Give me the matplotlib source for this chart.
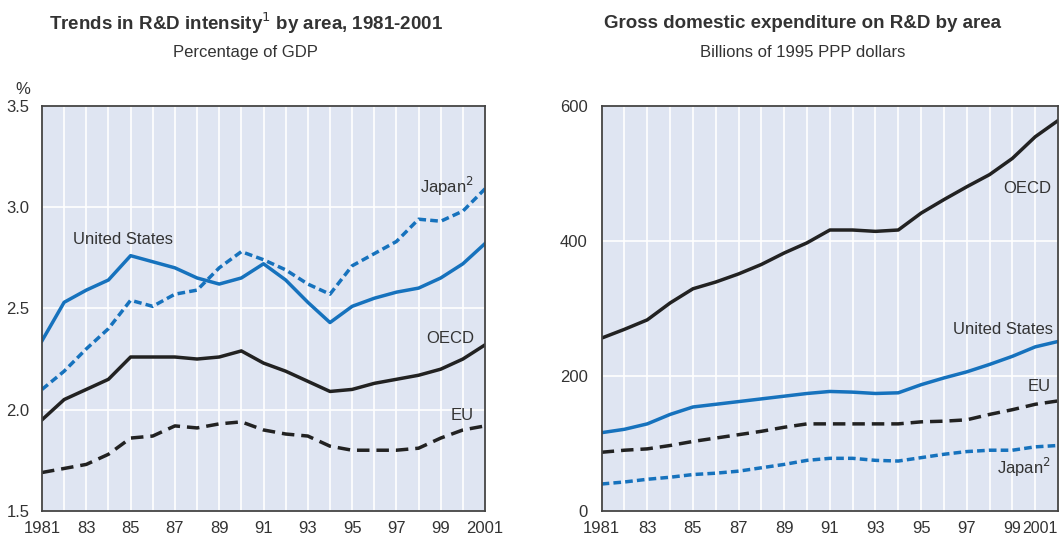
import numpy as np
import matplotlib
matplotlib.use("Agg")
from matplotlib import pyplot as plt

plt.rcParams['font.family'] = ['Liberation Sans Narrow', 'Liberation Sans', 'DejaVu Sans']

### Data ###
years = list(range(1981, 2002))

# R&D intensity, % of GDP
int_us = [2.34, 2.53, 2.59, 2.64, 2.76, 2.73, 2.70, 2.65, 2.62, 2.65, 2.72,
          2.64, 2.53, 2.43, 2.51, 2.55, 2.58, 2.60, 2.65, 2.72, 2.82]
int_japan = [2.10, 2.19, 2.30, 2.40, 2.54, 2.51, 2.57, 2.59, 2.70, 2.78, 2.74,
             2.69, 2.62, 2.57, 2.71, 2.77, 2.83, 2.94, 2.93, 2.98, 3.09]
int_oecd = [1.95, 2.05, 2.10, 2.15, 2.26, 2.26, 2.26, 2.25, 2.26, 2.29, 2.23,
            2.19, 2.14, 2.09, 2.10, 2.13, 2.15, 2.17, 2.20, 2.25, 2.32]
int_eu = [1.69, 1.71, 1.73, 1.78, 1.86, 1.87, 1.92, 1.91, 1.93, 1.94, 1.90,
          1.88, 1.87, 1.82, 1.80, 1.80, 1.80, 1.81, 1.86, 1.90, 1.92]

# GERD, billions of 1995 PPP dollars
gerd_oecd = [256, 269, 283, 308, 329, 339, 351, 365, 382, 397, 416,
             416, 414, 416, 441, 461, 480, 498, 522, 554, 578]
gerd_us = [116, 121, 129, 143, 154, 158, 162, 166, 170, 174, 177,
           176, 174, 175, 187, 197, 206, 217, 229, 243, 251]
gerd_eu = [87, 90, 92, 97, 103, 108, 113, 118, 124, 129, 129,
           129, 129, 129, 132, 133, 135, 143, 150, 158, 163]
gerd_japan = [40, 43, 47, 50, 54, 56, 59, 64, 69, 75, 78,
              78, 75, 74, 79, 84, 88, 90, 90, 95, 97]

tick_years = list(range(1981, 2002, 2))
tick_labels = ['1981', '83', '85', '87', '89', '91', '93', '95', '97', '99', '2001']

### Style ###
blue = '#1672bd'
black = '#222222'
bg = '#dfe5f2'
txt = '#333333'

fig = plt.figure(figsize=(10.63, 5.43), dpi=100)
ax1 = fig.add_axes([0.0395, 0.0589, 0.4168, 0.7464])
ax2 = fig.add_axes([0.566, 0.0589, 0.4293, 0.7464])


def style_axis(ax, ypad):
    ax.set_facecolor(bg)
    ax.set_xlim(1981, 2001)
    ax.set_xticks(years, minor=True)
    ax.set_xticks(tick_years)
    ax.set_xticklabels(tick_labels)
    ax.grid(True, which='both', axis='x', color='white', lw=1.2)
    ax.grid(True, which='major', axis='y', color='white', lw=1.2)
    ax.set_axisbelow(True)
    ax.tick_params(which='both', length=0, labelsize=12, colors=txt)
    ax.tick_params(axis='x', pad=7)
    ax.tick_params(axis='y', pad=ypad)
    for s in ax.spines.values():
        s.set_color('#444444')
        s.set_linewidth(1.3)


# left panel
style_axis(ax1, 9)
ax1.set_ylim(1.5, 3.5)
ax1.set_yticks([1.5, 2.0, 2.5, 3.0, 3.5])
ax1.set_yticklabels(['1.5', '2.0', '2.5', '3.0', '3.5'])
ax1.plot(years, int_us, color=blue, lw=2.5, solid_joinstyle='round')
ax1.plot(years, int_japan, color=blue, lw=2.5, dashes=(2.2, 1.2))
ax1.plot(years, int_oecd, color=black, lw=2.5)
ax1.plot(years, int_eu, color=black, lw=2.5, dashes=(3.6, 2.0))
ax1.text(1982.4, 2.84, 'United States', fontsize=12, color=txt, ha='left', va='center')
ax1.text(2000.5, 3.10, 'Japan$^2$', fontsize=12, color=txt, ha='right', va='center')
ax1.text(2000.5, 2.35, 'OECD', fontsize=12, color=txt, ha='right', va='center')
ax1.text(2000.5, 1.97, 'EU', fontsize=12, color=txt, ha='right', va='center')

# right panel
style_axis(ax2, 10)
ax2.set_ylim(0, 600)
ax2.set_yticks([0, 200, 400, 600])
ax2.plot(years, gerd_oecd, color=black, lw=2.5)
ax2.plot(years, gerd_us, color=blue, lw=2.5)
ax2.plot(years, gerd_eu, color=black, lw=2.5, dashes=(3.6, 2.0))
ax2.plot(years, gerd_japan, color=blue, lw=2.5, dashes=(2.2, 1.2))
ax2.text(2000.7, 478, 'OECD', fontsize=12, color=txt, ha='right', va='center')
ax2.text(2000.8, 269, 'United States', fontsize=12, color=txt, ha='right', va='center')
ax2.text(2000.7, 185, 'EU', fontsize=12, color=txt, ha='right', va='center')
ax2.text(2000.7, 64, 'Japan$^2$', fontsize=12, color=txt, ha='right', va='center')
# last label squeezed inside the axis
ax2.get_xticklabels()[-1].set_horizontalalignment('right')
ax2.get_xticklabels()[-1].set_fontsize(11.5)
ax2.get_xticklabels()[-2].set_fontsize(11.5)

# titles
fig.text(0.231, 0.957, 'Trends in R&D intensity$^1$ by area, 1981-2001', fontsize=13.5,
         fontweight='bold', color=txt, ha='center', va='center')
fig.text(0.231, 0.903, 'Percentage of GDP', fontsize=12, color=txt, ha='center', va='center')
fig.text(0.755, 0.957, 'Gross domestic expenditure on R&D by area', fontsize=13.5,
         fontweight='bold', color=txt, ha='center', va='center')
fig.text(0.755, 0.903, 'Billions of 1995 PPP dollars', fontsize=12, color=txt, ha='center', va='center')
fig.text(0.021, 0.836, '%', fontsize=12, color=txt, ha='center', va='center')

fig.savefig('out.png', dpi=100)
